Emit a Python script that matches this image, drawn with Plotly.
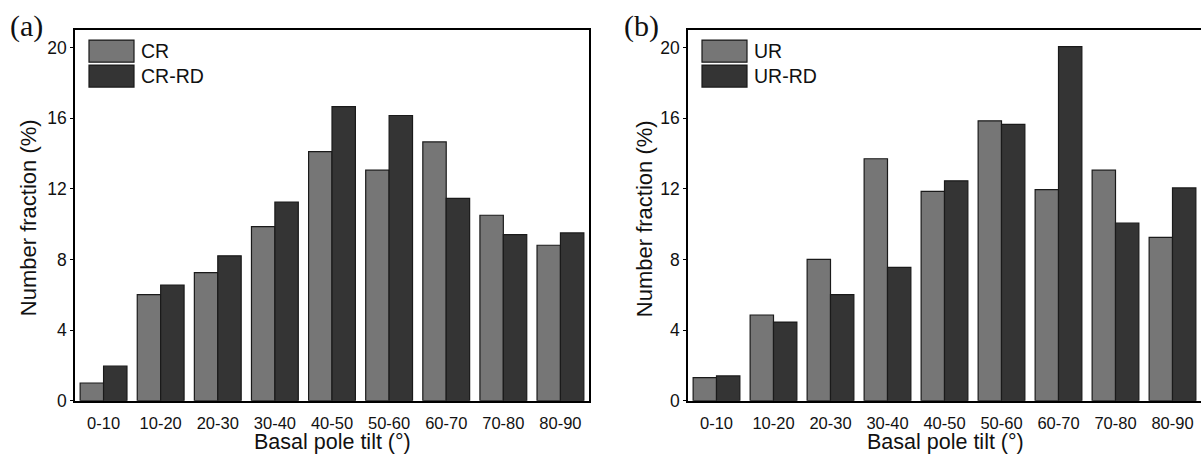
import plotly.graph_objects as go

# ---------------- data ----------------
categories = ["0-10", "10-20", "20-30", "30-40", "40-50", "50-60", "60-70", "70-80", "80-90"]
cr = [1.0, 6.0, 7.25, 9.85, 14.1, 13.05, 14.65, 10.5, 8.8]
cr_rd = [1.95, 6.55, 8.2, 11.25, 16.65, 16.15, 11.45, 9.4, 9.5]
ur = [1.3, 4.85, 8.0, 13.7, 11.85, 15.85, 11.95, 13.05, 9.25]
ur_rd = [1.4, 4.45, 6.0, 7.55, 12.45, 15.65, 20.05, 10.05, 12.05]
y_ticks = [0, 4, 8, 12, 16, 20]
x_title = "Basal pole tilt (°)"
y_title = "Number fraction (%)"

# ---------------- style ----------------
W, H = 1201, 463
GREY = "#767676"
DARK = "#343434"
EDGE = "#1a1a1a"
FONT = "Liberation Sans, Arial, sans-serif"
SERIF = "Liberation Serif, Times New Roman, serif"

# pixel geometry of the two panels
A_L, A_R = 75, 589
B_L, B_R = 688, 1201
TOP, BOT = 30.5, 409.5


def px(x):
    return x / W


def py(y):
    return 1 - y / H


fig = go.Figure()
bar_kw = dict(marker_line_color=EDGE, marker_line_width=1.2)
fig.add_trace(go.Bar(x=categories, y=cr, name="CR", marker_color=GREY, xaxis="x", yaxis="y", **bar_kw))
fig.add_trace(go.Bar(x=categories, y=cr_rd, name="CR-RD", marker_color=DARK, xaxis="x", yaxis="y", **bar_kw))
fig.add_trace(go.Bar(x=categories, y=ur, name="UR", marker_color=GREY, xaxis="x2", yaxis="y2", **bar_kw))
fig.add_trace(go.Bar(x=categories, y=ur_rd, name="UR-RD", marker_color=DARK, xaxis="x2", yaxis="y2", **bar_kw))

xa = dict(type="category", range=[-0.5, 8.5], showline=True, linecolor="black", linewidth=1.5,
          ticks="", showgrid=False, zeroline=False, ticklabelstandoff=7,
          tickfont=dict(family=FONT, size=16.5, color="#111"))
ya = dict(range=[0, 21], tickvals=y_ticks, showline=True, linecolor="black", linewidth=1.5,
          ticks="outside", ticklen=3, tickcolor="black", tickwidth=1, showgrid=False, zeroline=False,
          tickfont=dict(family=FONT, size=17.5, color="#111"))

fig.update_layout(
    width=W, height=H,
    margin=dict(l=0, r=0, t=0, b=0),
    paper_bgcolor="white", plot_bgcolor="white",
    showlegend=False,
    barmode="group", bargap=0.18, bargroupgap=0.0,
    xaxis=dict(xa, domain=[px(A_L), px(A_R)], anchor="y", mirror=True),
    yaxis=dict(ya, domain=[py(BOT), py(TOP)], anchor="x", mirror=True),
    xaxis2=dict(xa, domain=[px(B_L), 1.0], anchor="y2", mirror=True),
    yaxis2=dict(ya, domain=[py(BOT), py(TOP)], anchor="x2", mirror=False),
)

shapes = []
annotations = []
for left, names, label, lab_x in [(A_L, ["CR", "CR-RD"], "(a)", 26), (B_L, ["UR", "UR-RD"], "(b)", 641)]:
    for i, (nm, col) in enumerate(zip(names, [GREY, DARK])):
        y0 = 41 + i * 25.5
        shapes.append(dict(type="rect", xref="paper", yref="paper",
                           x0=px(left + 14), x1=px(left + 59), y0=py(y0), y1=py(y0 + 22.5),
                           fillcolor=col, line=dict(color=EDGE, width=1.2)))
        annotations.append(dict(text=nm, xref="paper", yref="paper", x=px(left + 64), y=py(y0 + 11.5),
                                xanchor="left", yanchor="middle", showarrow=False,
                                font=dict(family=FONT, size=19.5, color="#111")))
    annotations.append(dict(text=label, xref="paper", yref="paper", x=px(lab_x), y=py(27),
                            xanchor="center", yanchor="middle", showarrow=False,
                            font=dict(family=SERIF, size=30, color="#111")))

for cx, ty in [((A_L + A_R) / 2, 28), ((B_L + 1202) / 2, 644)]:
    annotations.append(dict(text=x_title, xref="paper", yref="paper", x=px(cx), y=py(452),
                            xanchor="center", yanchor="middle", showarrow=False,
                            font=dict(family=FONT, size=21.5, color="#111")))
    annotations.append(dict(text=y_title, xref="paper", yref="paper", x=px(ty), y=py(223),
                            xanchor="center", yanchor="middle", showarrow=False, textangle=-90,
                            font=dict(family=FONT, size=22, color="#111")))

fig.update_layout(shapes=shapes, annotations=annotations)
fig.write_html("out.html")
